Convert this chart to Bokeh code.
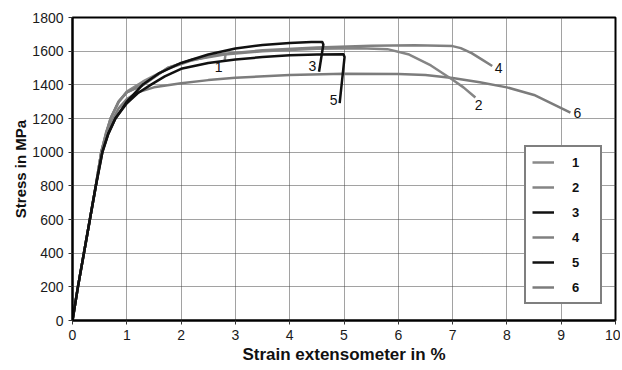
from bokeh.plotting import figure
from bokeh.models import FixedTicker, Legend, LegendItem
from bokeh.core.properties import value
from bokeh.embed import file_html
from bokeh.resources import INLINE

# ---- data (strain in %, stress in MPa) ----
s1_x = [0, 0.1, 0.21, 0.32, 0.43, 0.53, 0.62, 0.72, 0.85, 1.0, 1.3, 1.75, 2.2, 2.6, 2.82, 2.80]
s1_y = [0, 200, 400, 600, 800, 1000, 1120, 1210, 1300, 1360, 1420, 1495, 1545, 1575, 1585, 1540]

s2_x = [0, 0.1, 0.21, 0.32, 0.43, 0.53, 0.62, 0.70, 0.85, 1.0, 1.31, 1.75, 2.2, 2.8, 3.5, 4.5, 5.3, 5.8, 6.2, 6.6, 7.0, 7.2, 7.42]
s2_y = [0, 200, 400, 600, 800, 1000, 1110, 1200, 1300, 1355, 1400, 1500, 1548, 1580, 1600, 1614, 1618, 1612, 1580, 1515, 1430, 1385, 1325]

s3_x = [0, 0.1, 0.21, 0.32, 0.43, 0.55, 0.66, 0.79, 1.0, 1.29, 1.6, 2.0, 2.5, 3.0, 3.5, 4.0, 4.4, 4.6, 4.62, 4.54]
s3_y = [0, 200, 400, 600, 800, 1000, 1110, 1200, 1300, 1400, 1470, 1530, 1580, 1616, 1637, 1649, 1654, 1655, 1640, 1478]

s4_x = [0, 0.1, 0.21, 0.32, 0.43, 0.53, 0.62, 0.70, 0.85, 1.0, 1.31, 1.75, 2.2, 2.8, 3.5, 4.5, 5.5, 6.3, 7.0, 7.15, 7.35, 7.55, 7.73]
s4_y = [0, 200, 400, 600, 800, 1000, 1110, 1200, 1300, 1355, 1405, 1500, 1550, 1585, 1605, 1622, 1632, 1635, 1630, 1618, 1588, 1548, 1512]

s5_x = [0, 0.1, 0.21, 0.32, 0.43, 0.55, 0.66, 0.79, 1.0, 1.2, 1.44, 1.7, 2.0, 2.5, 3.0, 3.5, 4.0, 4.5, 4.99, 5.01, 4.92]
s5_y = [0, 200, 400, 600, 800, 1000, 1110, 1200, 1290, 1350, 1400, 1450, 1495, 1530, 1550, 1565, 1576, 1580, 1582, 1565, 1292]

s6_x = [0, 0.1, 0.21, 0.32, 0.43, 0.53, 0.62, 0.72, 0.85, 1.0, 1.2, 1.5, 2.0, 2.5, 3.0, 4.0, 5.0, 6.0, 6.5, 7.0, 7.5, 8.0, 8.5, 9.17]
s6_y = [0, 200, 400, 600, 800, 1000, 1100, 1180, 1260, 1315, 1355, 1385, 1410, 1428, 1442, 1458, 1466, 1465, 1458, 1441, 1415, 1385, 1340, 1235]

series_names = ["1", "2", "3", "4", "5", "6"]
series_colors = ["#8a8a8a", "#858585", "#111111", "#808080", "#111111", "#7c7c7c"]

label_x = [2.69, 7.48, 4.42, 7.85, 4.81, 9.30]
label_y = [1506, 1282, 1512, 1500, 1312, 1235]

x_ticks = list(range(0, 11))
y_ticks = list(range(0, 1801, 200))

FONT = "Liberation Sans"

p = figure(width=620, height=366, output_backend="svg", toolbar_location=None,
           x_range=(0, 10), y_range=(0, 1800),
           min_border_left=72, min_border_right=5, min_border_top=17, min_border_bottom=43)

p.outline_line_color = "black"
p.outline_line_width = 2
p.background_fill_color = "white"

for ax in (p.xaxis[0], p.yaxis[0]):
    ax.axis_line_color = "black"
    ax.axis_line_width = 2
    ax.major_tick_in = 0
    ax.major_tick_out = 4
    ax.major_tick_line_color = "#333333"
    ax.minor_tick_line_color = None
    ax.major_label_text_font = FONT
    ax.major_label_text_font_size = "14px"
    ax.major_label_text_color = "#1a1a1a"
    ax.major_label_standoff = 5
    ax.axis_label_text_font = FONT
    ax.axis_label_text_font_style = "bold"
    ax.axis_label_text_color = "#111111"
    ax.axis_label_standoff = 2

p.xaxis[0].axis_label_text_font_size = "17px"
p.yaxis[0].axis_label_text_font_size = "15px"
p.yaxis[0].axis_label_standoff = 0
p.xaxis[0].ticker = FixedTicker(ticks=x_ticks)
p.yaxis[0].ticker = FixedTicker(ticks=y_ticks)
p.xaxis[0].axis_label = "Strain extensometer in %"
p.yaxis[0].axis_label = "Stress in MPa"

for g in (p.xgrid[0], p.ygrid[0]):
    g.grid_line_color = "#444444"
    g.grid_line_width = 1
    g.grid_line_dash = "1 1"
p.xgrid[0].ticker = FixedTicker(ticks=x_ticks)
p.ygrid[0].ticker = FixedTicker(ticks=y_ticks)

xs = [s1_x, s2_x, s3_x, s4_x, s5_x, s6_x]
ys = [s1_y, s2_y, s3_y, s4_y, s5_y, s6_y]
draw_order = [5, 0, 1, 3, 4, 2]
renderers = {}
for i in draw_order:
    renderers[i] = p.line(xs[i], ys[i], line_color=series_colors[i], line_width=2.5,
                          line_join="round")

p.text(x=label_x, y=label_y, text=series_names, text_font=value(FONT),
       text_font_size="14px", text_color="#111111", text_align="center",
       text_baseline="middle")

items = [LegendItem(label=series_names[i], renderers=[renderers[i]]) for i in range(6)]
legend = Legend(items=items, location=(452, 16), orientation="vertical",
                border_line_color="black", border_line_width=2.5,
                background_fill_color="white", background_fill_alpha=1,
                label_text_font=FONT, label_text_font_style="bold",
                label_text_font_size="13px", label_text_color="#111111",
                glyph_width=22, glyph_height=18, label_height=18, label_width=22,
                label_standoff=18, spacing=7, padding=6, margin=0)
p.add_layout(legend, "center")

open("out.html", "w").write(file_html(p, INLINE))
